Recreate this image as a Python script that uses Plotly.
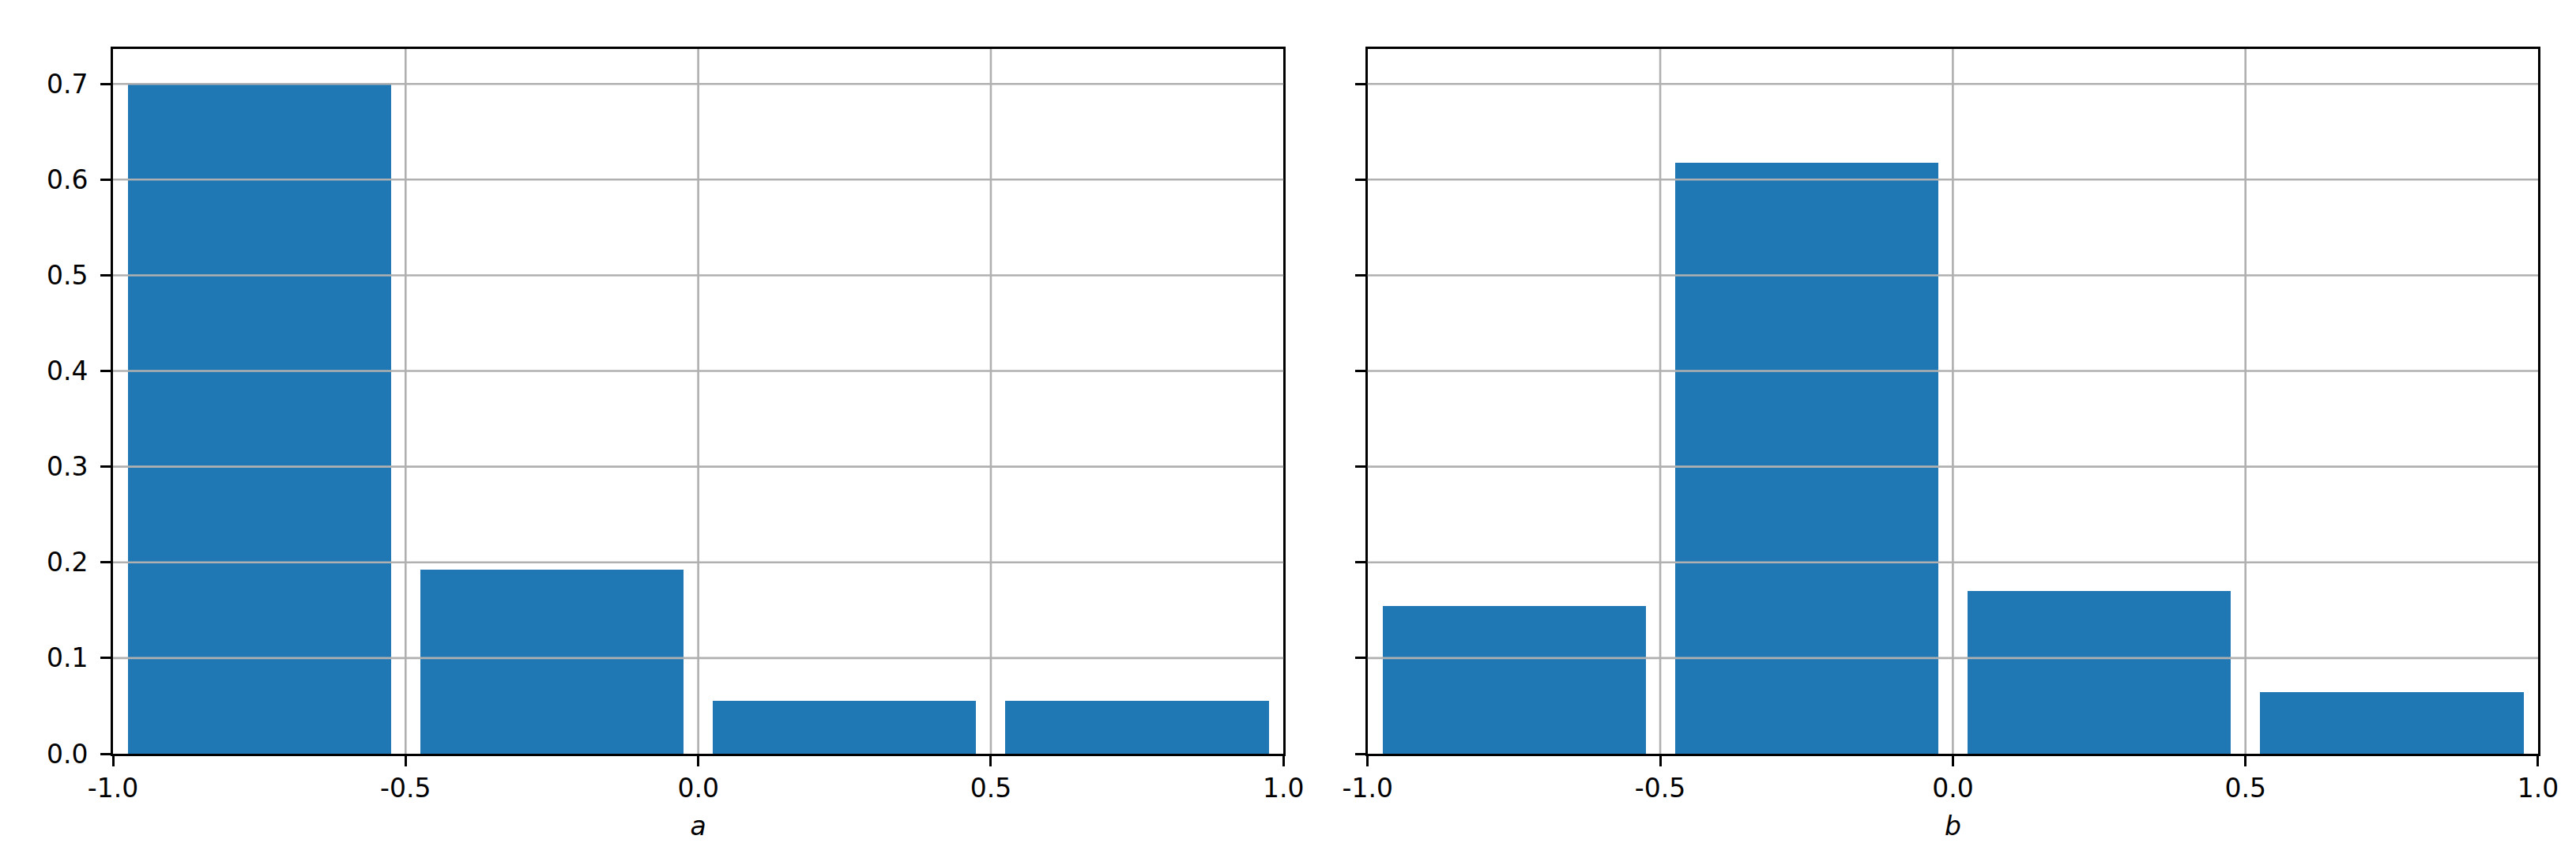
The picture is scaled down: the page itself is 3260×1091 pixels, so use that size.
import plotly.graph_objects as go
from plotly.subplots import make_subplots

# histogram bins (shared by both panels)
bin_edges = [-1.0, -0.5, 0.0, 0.5, 1.0]
# normalised counts
a_values = [0.699, 0.1925, 0.055, 0.055]
b_values = [0.154, 0.618, 0.170, 0.064]

x_tickvals = [-1.0, -0.5, 0.0, 0.5, 1.0]
x_ticktext = ["-1.0", "-0.5", "0.0", "0.5", "1.0"]
y_tickvals = [0.0, 0.1, 0.2, 0.3, 0.4, 0.5, 0.6, 0.7]
y_ticktext = ["0.0", "0.1", "0.2", "0.3", "0.4", "0.5", "0.6", "0.7"]

centers = [(lo + hi) / 2 for lo, hi in zip(bin_edges[:-1], bin_edges[1:])]
bar_w = 0.9 * (bin_edges[1] - bin_edges[0])

BLUE = "#1f77b4"
GRID = "#b0b0b0"
FONT = "DejaVu Sans"

fig = make_subplots(rows=1, cols=2, shared_yaxes=True, horizontal_spacing=0.0347)

for col, vals in [(1, a_values), (2, b_values)]:
    fig.add_trace(
        go.Bar(x=centers, y=vals, width=bar_w,
               marker=dict(color=BLUE, line=dict(width=0)),
               showlegend=False),
        row=1, col=col
    )

axis_common = dict(
    showline=True, mirror=True, linecolor="black", linewidth=2.6,
    ticks="outside", ticklen=13, tickwidth=2.6, tickcolor="black",
    showgrid=False, zeroline=False,
    tickfont=dict(family=FONT, size=33, color="black"),
)

fig.update_xaxes(range=[-1, 1], tickvals=x_tickvals, ticktext=x_ticktext, **axis_common)
fig.update_yaxes(range=[0, 0.7365], tickvals=y_tickvals, ticktext=y_ticktext,
                 ticklabelstandoff=9, **axis_common)
fig.update_yaxes(showticklabels=False, row=1, col=2)

fig.update_xaxes(title=dict(text="<i>a</i>", font=dict(family=FONT, size=33, color="black"), standoff=18), row=1, col=1)
fig.update_xaxes(title=dict(text="<i>b</i>", font=dict(family=FONT, size=33, color="black"), standoff=18), row=1, col=2)

# gridlines drawn above the bars, as matplotlib does here
shapes = []
for xr, yr in [("x", "y"), ("x2", "y2")]:
    for v in x_tickvals[1:-1]:
        shapes.append(dict(type="line", xref=xr, yref=yr + " domain", x0=v, x1=v, y0=0, y1=1,
                           line=dict(color=GRID, width=2.6), layer="above"))
    for v in y_tickvals[1:]:
        shapes.append(dict(type="line", xref=xr + " domain", yref=yr, x0=0, x1=1, y0=v, y1=v,
                           line=dict(color=GRID, width=2.6), layer="above"))
fig.update_layout(shapes=shapes)

fig.update_layout(
    width=3260, height=1091,
    margin=dict(l=135, r=56, t=54, b=145),
    paper_bgcolor="white", plot_bgcolor="white",
    font=dict(family=FONT, size=33, color="black"),
    bargap=0,
)

fig.write_html("out.html")
